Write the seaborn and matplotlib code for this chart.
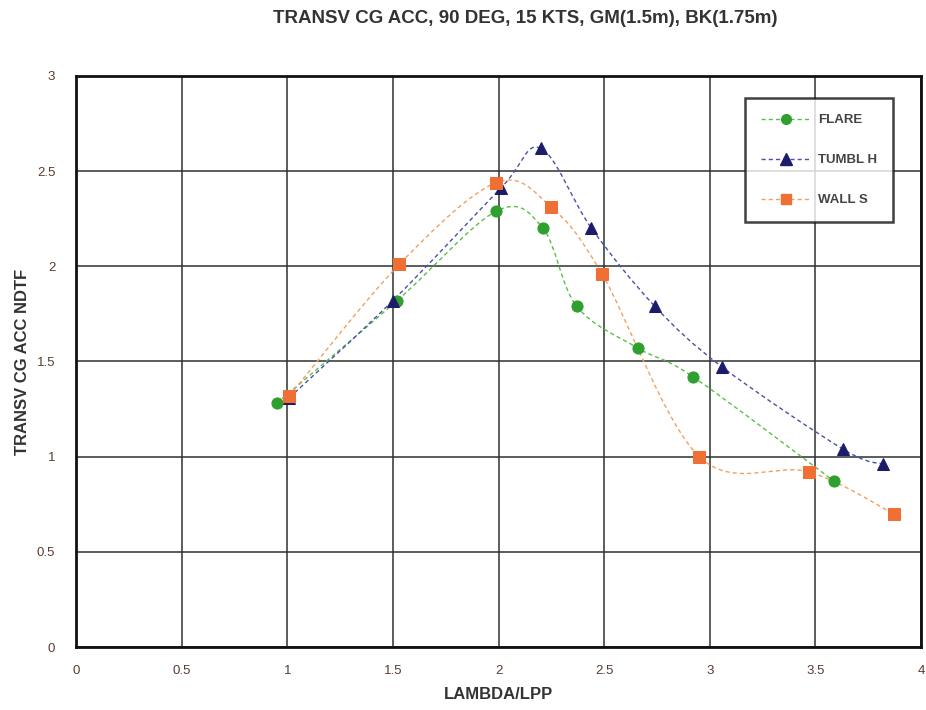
import numpy as np
import pandas as pd
import matplotlib
matplotlib.use("Agg")
import matplotlib.pyplot as plt
import seaborn as sns
from matplotlib.path import Path
from matplotlib.patches import PathPatch
from matplotlib.lines import Line2D

# values
flare_x = [0.95, 1.52, 1.99, 2.21, 2.37, 2.66, 2.92, 3.59]
flare_y = [1.28, 1.82, 2.29, 2.20, 1.79, 1.57, 1.42, 0.87]

tumbl_x = [1.01, 1.50, 2.01, 2.20, 2.44, 2.74, 3.06, 3.63, 3.82]
tumbl_y = [1.31, 1.82, 2.41, 2.62, 2.20, 1.79, 1.47, 1.04, 0.96]

wall_x = [1.01, 1.53, 1.99, 2.25, 2.49, 2.95, 3.47, 3.87]
wall_y = [1.32, 2.01, 2.44, 2.31, 1.96, 1.00, 0.92, 0.70]

x_ticks = [0, 0.5, 1, 1.5, 2, 2.5, 3, 3.5, 4]
x_tick_labels = ["0", "0.5", "1", "1.5", "2", "2.5", "3", "3.5", "4"]
y_ticks = [0, 0.5, 1, 1.5, 2, 2.5, 3]
y_tick_labels = ["0", "0.5", "1", "1.5", "2", "2.5", "3"]

series = [
    ("FLARE", flare_x, flare_y, "o", "#2f9f2f", "#5cbf4a", 8),
    ("TUMBL H", tumbl_x, tumbl_y, "^", "#1c1c6a", "#4a50a8", 9),
    ("WALL S", wall_x, wall_y, "s", "#ef6f35", "#f3a060", 8),
]


def smooth_path(xs, ys):
    # excel style smoothed line: cubic bezier through the points
    pts = np.column_stack([xs, ys])
    n = len(pts)
    verts = [pts[0]]
    codes = [Path.MOVETO]
    for i in range(n - 1):
        p0 = pts[i - 1] if i > 0 else pts[i]
        p1 = pts[i]
        p2 = pts[i + 1]
        p3 = pts[i + 2] if i + 2 < n else pts[i + 1]
        verts += [p1 + (p2 - p0) / 6, p2 - (p3 - p1) / 6, p2]
        codes += [Path.CURVE4] * 3
    return Path(verts, codes)


sns.set_style("white")
plt.rcParams["font.family"] = ["Liberation Sans", "DejaVu Sans"]

fig = plt.figure(figsize=(9.26, 7.10), dpi=100)
ax = fig.add_axes([0.0821, 0.0887, 0.9125, 0.8043])

handles = []
for name, xs, ys, mk, mcol, lcol, ms in series:
    ax.add_patch(PathPatch(smooth_path(xs, ys), fill=False, edgecolor=lcol,
                           lw=1.0, linestyle=(0, (3, 2.2)), zorder=3))
    df = pd.DataFrame({"x": xs, "y": ys})
    sns.lineplot(data=df, x="x", y="y", ax=ax, marker=mk, markersize=ms,
                 color=mcol, markeredgecolor=mcol, linestyle="none",
                 sort=False, zorder=4)
    handles.append(Line2D([], [], color=lcol, lw=1.0, linestyle=(0, (3, 2.2)),
                          marker=mk, markersize=ms - 1, markerfacecolor=mcol,
                          markeredgecolor=mcol))

ax.set_xlim(0, 4)
ax.set_ylim(0, 3)
ax.set_xticks(x_ticks)
ax.set_xticklabels(x_tick_labels)
ax.set_yticks(y_ticks)
ax.set_yticklabels(y_tick_labels)
ax.grid(True, color="#2e332e", lw=1.1)
ax.set_axisbelow(True)
for sp in ax.spines.values():
    sp.set_color("#111111")
    sp.set_linewidth(2)
ax.tick_params(axis="both", direction="out", length=5, width=1.2,
               color="#222222", labelsize=9.5, labelcolor="#5a3c30")
ax.tick_params(axis="x", pad=8)
ax.tick_params(axis="y", pad=10)

ax.set_xlabel("LAMBDA/LPP", fontsize=12, fontweight="bold", color="#333333",
              labelpad=7)
ax.set_ylabel("TRANSV CG ACC NDTF", fontsize=12, fontweight="bold",
              color="#333333", labelpad=5)

fig.text(0.567, 0.974, "TRANSV CG ACC, 90 DEG, 15 KTS, GM(1.5m), BK(1.75m)",
         ha="center", va="center", fontsize=13.5, fontweight="bold",
         color="#333333")

leg = ax.legend(handles, [s[0] for s in series], loc="upper left",
                bbox_to_anchor=(0.792, 0.744, 0.175, 0.217), mode="expand",
                fontsize=9.5, labelspacing=2.1, handlelength=3.8,
                handletextpad=0.5, borderpad=1.2,
                frameon=True, fancybox=False, borderaxespad=0)
leg.get_frame().set_edgecolor("#111111")
leg.get_frame().set_linewidth(1.8)
for t in leg.get_texts():
    t.set_color("#444444")
    t.set_fontweight("bold")

fig.savefig("out.png", dpi=100)
